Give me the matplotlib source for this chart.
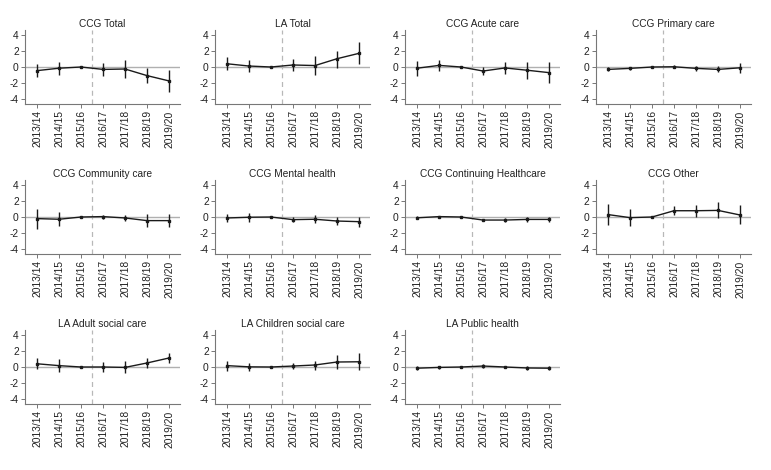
import matplotlib
matplotlib.use("Agg")
import matplotlib.pyplot as plt
import numpy as np

plt.rcParams['font.family'] = ['Liberation Sans', 'DejaVu Sans']

years = ["2013/14", "2014/15", "2015/16", "2016/17", "2017/18", "2018/19", "2019/20"]

titles = ["CCG Total", "LA Total", "CCG Acute care", "CCG Primary care",
          "CCG Community care", "CCG Mental health", "CCG Continuing Healthcare", "CCG Other",
          "LA Adult social care", "LA Children social care", "LA Public health"]

ccg_total_est = [-0.45, -0.15, 0, -0.3, -0.25, -1.07, -1.73]
ccg_total_lo = [-1.28, -1.0, 0, -1.1, -1.35, -2.05, -3.1]
ccg_total_hi = [0.37, 0.65, 0, 0.45, 0.85, -0.1, -0.37]

la_total_est = [0.4, 0.12, 0, 0.25, 0.18, 1.03, 1.7]
la_total_lo = [-0.4, -0.65, 0, -0.55, -1.0, -0.08, 0.33]
la_total_hi = [1.2, 0.85, 0, 1.05, 1.35, 2.05, 3.05]

ccg_acute_est = [-0.15, 0.2, 0, -0.5, -0.12, -0.4, -0.7]
ccg_acute_lo = [-1.15, -0.45, 0, -1.0, -0.85, -1.5, -1.95]
ccg_acute_hi = [0.8, 0.85, 0, -0.05, 0.6, 0.65, 0.6]

ccg_primary_est = [-0.3, -0.17, 0, 0.03, -0.17, -0.3, -0.1]
ccg_primary_lo = [-0.55, -0.37, 0, -0.15, -0.5, -0.65, -0.7]
ccg_primary_hi = [0.0, 0.05, 0, 0.25, 0.15, 0.1, 0.5]

ccg_community_est = [-0.2, -0.28, 0, 0.05, -0.12, -0.45, -0.45]
ccg_community_lo = [-1.55, -1.15, 0, -0.2, -0.55, -1.3, -1.3]
ccg_community_hi = [1.05, 0.65, 0, 0.25, 0.25, 0.4, 0.4]

ccg_mental_est = [-0.12, -0.03, 0, -0.33, -0.28, -0.5, -0.58]
ccg_mental_lo = [-0.65, -0.57, 0, -0.65, -0.8, -1.0, -1.2]
ccg_mental_hi = [0.37, 0.45, 0, -0.05, 0.2, -0.05, 0.05]

ccg_chc_est = [-0.1, 0.05, 0, -0.38, -0.38, -0.3, -0.3]
ccg_chc_lo = [-0.3, -0.12, 0, -0.55, -0.65, -0.58, -0.6]
ccg_chc_hi = [0.12, 0.15, 0, -0.2, -0.12, 0.0, 0.05]

ccg_other_est = [0.3, -0.08, 0, 0.78, 0.78, 0.82, 0.25]
ccg_other_lo = [-1.0, -1.15, 0, 0.2, 0.05, -0.15, -0.9]
ccg_other_hi = [1.6, 1.05, 0, 1.4, 1.5, 1.85, 1.5]

la_adult_est = [0.4, 0.17, 0, 0.0, -0.05, 0.5, 1.12]
la_adult_lo = [-0.25, -0.65, 0, -0.62, -0.8, -0.1, 0.5]
la_adult_hi = [1.1, 1.03, 0, 0.62, 0.7, 1.15, 1.78]

la_children_est = [0.17, 0.02, 0, 0.12, 0.25, 0.62, 0.65]
la_children_lo = [-0.45, -0.5, 0, -0.2, -0.32, -0.25, -0.32]
la_children_hi = [0.8, 0.55, 0, 0.45, 0.8, 1.5, 1.7]

la_public_est = [-0.15, -0.05, 0, 0.12, 0.0, -0.12, -0.15]
la_public_lo = [-0.33, -0.2, 0, -0.17, -0.17, -0.33, -0.37]
la_public_hi = [0.08, 0.12, 0, 0.4, 0.17, 0.08, 0.08]

series = [
    (ccg_total_est, ccg_total_lo, ccg_total_hi),
    (la_total_est, la_total_lo, la_total_hi),
    (ccg_acute_est, ccg_acute_lo, ccg_acute_hi),
    (ccg_primary_est, ccg_primary_lo, ccg_primary_hi),
    (ccg_community_est, ccg_community_lo, ccg_community_hi),
    (ccg_mental_est, ccg_mental_lo, ccg_mental_hi),
    (ccg_chc_est, ccg_chc_lo, ccg_chc_hi),
    (ccg_other_est, ccg_other_lo, ccg_other_hi),
    (la_adult_est, la_adult_lo, la_adult_hi),
    (la_children_est, la_children_lo, la_children_hi),
    (la_public_est, la_public_lo, la_public_hi),
]

W, H = 771, 470
fig = plt.figure(figsize=(W / 100, H / 100), dpi=100)

col_left = [25, 215, 405, 596]
row_top = [30, 180, 330]
aw, ah = 155, 74

x = np.arange(len(years))
for i, (title, (est, lo, hi)) in enumerate(zip(titles, series)):
    r, c = divmod(i, 4)
    left = col_left[c] / W
    bottom = (H - row_top[r] - ah) / H
    ax = fig.add_axes([left, bottom, aw / W, ah / H])
    est = np.array(est); lo = np.array(lo); hi = np.array(hi)
    ax.axhline(0, color='#b0b0b0', lw=1.0, zorder=1)
    ax.axvline(2.5, color='#b8b8b8', lw=0.9, ls=(0, (4, 3)), zorder=1)
    ax.vlines(x, lo, hi, color='#1a1a1a', lw=1.0, zorder=2)
    ax.plot(x, est, color='#1a1a1a', lw=1.0, marker='s', ms=2.0, zorder=3)
    ax.set_xlim(-0.55, 6.5)
    ax.set_ylim(-4.6, 4.6)
    ax.set_yticks([-4, -2, 0, 2, 4])
    ax.set_yticklabels(['-4', '-2', '0', '2', '4'])
    ax.set_xticks(x)
    ax.set_xticklabels(years, rotation=90)
    for s in ['top', 'right']:
        ax.spines[s].set_visible(False)
    for s in ['left', 'bottom']:
        ax.spines[s].set_color('#777777')
        ax.spines[s].set_linewidth(0.8)
    ax.tick_params(axis='both', labelsize=7.4, length=3, width=0.7, color='#777777',
                   pad=1.5, labelcolor='#222222')
    ax.set_title(title, fontsize=7.3, color='#222222', pad=2)

fig.savefig("out.png", dpi=100, facecolor='white')
